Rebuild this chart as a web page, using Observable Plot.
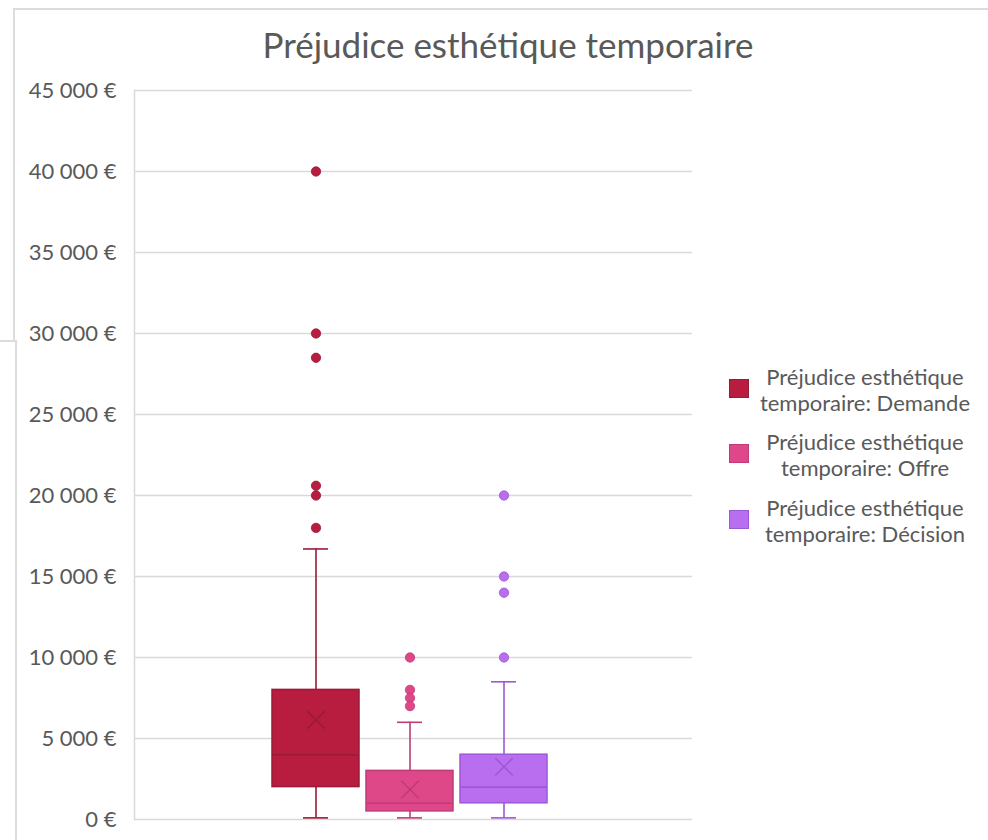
<!DOCTYPE html>
<html>
<head>
<meta charset="utf-8">
<script src="https://cdn.jsdelivr.net/npm/d3@7"></script>
<script src="https://cdn.jsdelivr.net/npm/@observablehq/plot@0.6"></script>
<style>
  html, body { margin: 0; padding: 0; background: #fff; }
  #root { position: relative; width: 988px; height: 840px; overflow: hidden; font-family: Lato, "Open Sans", sans-serif; color: #595959; }
  .ln { position: absolute; background: #dcdcdc; }
  #title { position: absolute; left: 208px; width: 600px; top: 21px; text-align: center; font-size: 35px; line-height: 46px; color: #595959; }
  #chart { position: absolute; left: 0; top: 70px; }
  .sw { position: absolute; left: 729px; width: 18px; height: 17px; border: 1.5px solid; }
  .lt { position: absolute; left: 745px; width: 240px; text-align: center; font-size: 22px; line-height: 26px; color: #595959; }
</style>
</head>
<body>
<div id="root">
  <div class="ln" style="left:13px;top:8px;width:975px;height:1.5px"></div>
  <div class="ln" style="left:13px;top:8px;width:1.5px;height:333px"></div>
  <div class="ln" style="left:0px;top:340px;width:16px;height:1.5px"></div>
  <div class="ln" style="left:15px;top:340px;width:1.5px;height:500px"></div>
  <div id="title">Préjudice esthétique temporaire</div>
  <div id="chart"></div>
  <div id="legend"></div>
</div>
<script>
// ---- data ----
const series = [
  "Préjudice esthétique temporaire: Demande",
  "Préjudice esthétique temporaire: Offre",
  "Préjudice esthétique temporaire: Décision"
];
const legendLine1 = ["Préjudice esthétique", "Préjudice esthétique", "Préjudice esthétique"];
const legendLine2 = ["temporaire: Demande", "temporaire: Offre", "temporaire: Décision"];
const lowerWhisker = [100, 100, 100];
const q1 = [2000, 500, 1000];
const median = [4000, 1000, 2000];
const q3 = [8000, 3000, 4000];
const upperWhisker = [16700, 6000, 8500];
const mean = [6150, 1850, 3250];
const outliersDemande = [40000, 30000, 28500, 20600, 20000, 18000];
const outliersOffre = [10000, 8000, 7500, 7000];
const outliersDecision = [20000, 15000, 14000, 10000];
const yTicks = [0, 5000, 10000, 15000, 20000, 25000, 30000, 35000, 40000, 45000];
const fills = ["#b81d40", "#de4889", "#b86eee"];
const strokes = ["#9a1a38", "#c03a79", "#9e57d8"];

// ---- tables ----
const boxes = series.map((s, i) => ({
  s, lo: lowerWhisker[i], q1: q1[i], med: median[i], q3: q3[i], hi: upperWhisker[i], mean: mean[i]
}));
const outliers = [
  ...outliersDemande.map(v => ({s: series[0], v})),
  ...outliersOffre.map(v => ({s: series[1], v})),
  ...outliersDecision.map(v => ({s: series[2], v}))
];
const fmt = d => d3.format(",")(d).replace(/,/g, " ") + " €";

const plot = Plot.plot({
  width: 700,
  height: 770,
  marginLeft: 134,
  marginRight: 8,
  marginTop: 20,
  marginBottom: 21,
  style: {fontFamily: "Lato, 'Open Sans', sans-serif", fontSize: "22px", color: "#595959", background: "transparent"},
  x: {domain: series, range: [269, 551], paddingInner: 0.074, paddingOuter: 0.037, axis: null},
  y: {domain: [0, 45000], ticks: yTicks},
  color: {domain: series, range: fills},
  marks: [
    Plot.ruleY(yTicks, {stroke: "#d9d9d9", strokeWidth: 1.5}),
    Plot.frame({anchor: "left", stroke: "#d9d9d9", strokeWidth: 1.5}),
    Plot.axisY({ticks: yTicks, tickFormat: fmt, tickSize: 0, tickPadding: 18, label: null}),
    Plot.ruleX(boxes, {x: "s", y1: "lo", y2: "q1", stroke: (d, i) => strokes[i], strokeWidth: 1.6}),
    Plot.ruleX(boxes, {x: "s", y1: "q3", y2: "hi", stroke: (d, i) => strokes[i], strokeWidth: 1.6}),
    Plot.tickY(boxes, {x: "s", y: "lo", stroke: (d, i) => strokes[i], strokeWidth: 1.6, insetLeft: 31, insetRight: 31}),
    Plot.tickY(boxes, {x: "s", y: "hi", stroke: (d, i) => strokes[i], strokeWidth: 1.6, insetLeft: 31, insetRight: 31}),
    Plot.barY(boxes, {x: "s", y1: "q1", y2: "q3", fill: (d, i) => fills[i], stroke: (d, i) => strokes[i], strokeWidth: 1.5}),
    Plot.tickY(boxes, {x: "s", y: "med", stroke: (d, i) => strokes[i], strokeWidth: 1.6}),
    Plot.dot(boxes, {x: "s", y: "mean", symbol: "times", r: 8, stroke: (d, i) => strokes[i], strokeWidth: 1.5}),
    Plot.dot(outliers, {x: "s", y: "v", r: 4.7, fill: d => fills[series.indexOf(d.s)], stroke: d => strokes[series.indexOf(d.s)], strokeWidth: 0.8})
  ]
});
document.getElementById("chart").appendChild(plot);

// ---- legend ----
const legend = document.getElementById("legend");
const swTops = [379, 444, 510];
series.forEach((s, i) => {
  const sw = document.createElement("div");
  sw.className = "sw";
  sw.style.top = swTops[i] + "px";
  sw.style.background = fills[i];
  sw.style.borderColor = strokes[i];
  legend.appendChild(sw);
  const t = document.createElement("div");
  t.className = "lt";
  t.style.top = (swTops[i] - 15) + "px";
  t.innerHTML = legendLine1[i] + "<br>" + legendLine2[i];
  legend.appendChild(t);
});
</script>
</body>
</html>
